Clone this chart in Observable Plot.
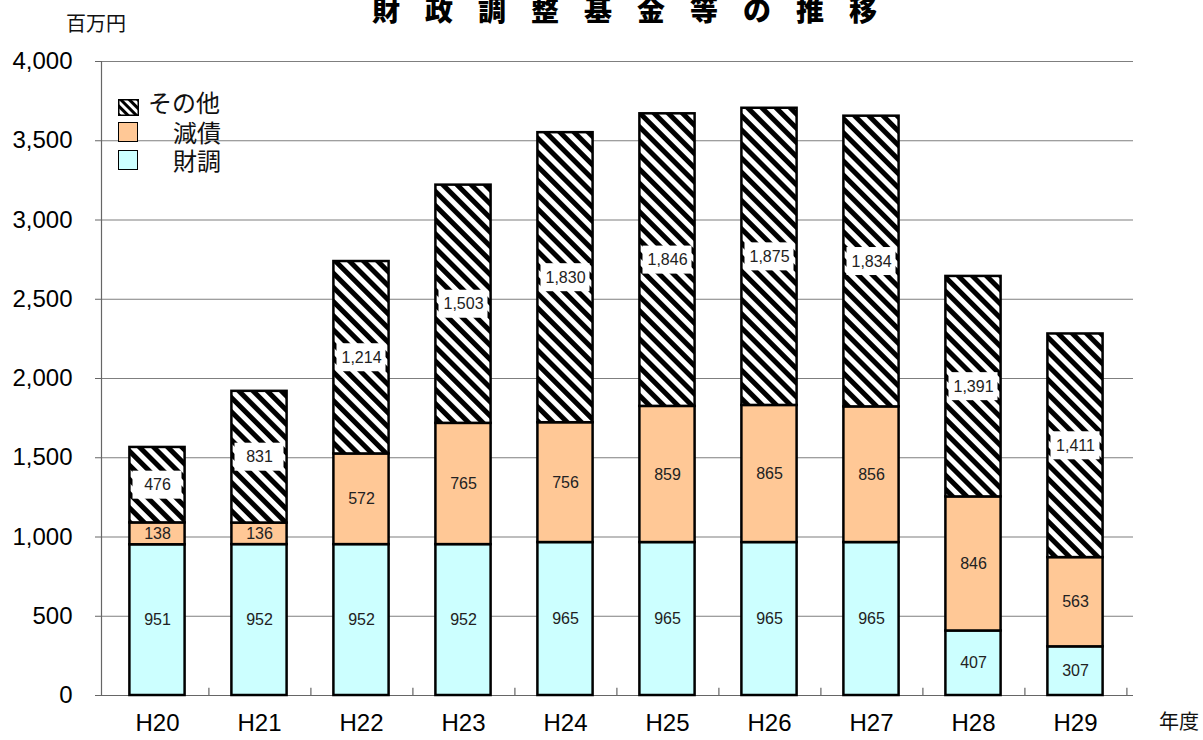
<!DOCTYPE html>
<html>
<head>
<meta charset="utf-8">
<script src="https://cdn.jsdelivr.net/npm/d3@7"></script>
<script src="https://cdn.jsdelivr.net/npm/@observablehq/plot@0.6"></script>
<style>
  body { margin: 0; background: #fff; }
  #wrap { position: relative; width: 1203px; height: 740px; overflow: hidden; font-family: 'Liberation Sans', 'Noto Sans CJK JP', sans-serif; color: #111; }
  #wrap svg.plot { position: absolute; left: 0; top: 0; }
  .title { position: absolute; left: 372px; top: -5px; white-space: nowrap; font-size: 28px; line-height: 28px; font-weight: 900; letter-spacing: 25px; font-family: 'Noto Sans CJK JP', sans-serif; color: #000; }
  .unit { position: absolute; left: 66px; top: 8px; font-size: 20px; font-family: 'Noto Sans CJK JP', sans-serif; }
  .xunit { position: absolute; left: 1159px; top: 706px; font-size: 20px; font-family: 'Noto Sans CJK JP', sans-serif; }
  .lg { position: absolute; font-family: 'Noto Sans CJK JP', sans-serif; font-size: 24px; line-height: 24px; white-space: nowrap; }
  .sw { position: absolute; width: 20px; height: 20px; border: 1.5px solid #000; box-sizing: border-box; }
</style>
</head>
<body>
<svg width="0" height="0" style="position:absolute">
  <defs>
    <pattern id="hatch" width="10" height="10" patternUnits="userSpaceOnUse" patternTransform="rotate(-45)">
      <rect width="10" height="10" fill="white"></rect>
      <rect width="5" height="10" fill="black"></rect>
    </pattern>
    <pattern id="hatchSmall" width="6" height="6" patternUnits="userSpaceOnUse" patternTransform="rotate(-45)">
      <rect width="6" height="6" fill="white"></rect>
      <rect width="3" height="6" fill="black"></rect>
    </pattern>
  </defs>
</svg>
<div id="wrap">
  <div class="title">財政調整基金等の推移</div>
  <div class="unit">百万円</div>
  <div class="xunit">年度</div>
  <svg style="position:absolute; left:118px; top:99px" width="21" height="17"><rect x="0.75" y="0.75" width="19.5" height="15.5" fill="url(#hatchSmall)" stroke="#000" stroke-width="1.5"></rect></svg>
  <div class="lg" style="left:148px; top:90px">その他</div>
  <div class="sw" style="left:118px; top:122px; background:#FFC896"></div>
  <div class="lg" style="left:173px; top:120px">減債</div>
  <div class="sw" style="left:118px; top:150px; background:#CCFFFF"></div>
  <div class="lg" style="left:173px; top:148px">財調</div>
</div>
<script>
const years = ["H20","H21","H22","H23","H24","H25","H26","H27","H28","H29"];
const zaichou = [951, 952, 952, 952, 965, 965, 965, 965, 407, 307];
const gensai  = [138, 136, 572, 765, 756, 859, 865, 856, 846, 563];
const sonota  = [476, 831, 1214, 1503, 1830, 1846, 1875, 1834, 1391, 1411];
const yTicks = [0, 500, 1000, 1500, 2000, 2500, 3000, 3500, 4000];

const zBars = years.map((y, i) => ({year: y, y1: 0, y2: zaichou[i], v: zaichou[i]}));
const gBars = years.map((y, i) => ({year: y, y1: zaichou[i], y2: zaichou[i] + gensai[i], v: gensai[i]}));
const sBars = years.map((y, i) => ({year: y, y1: zaichou[i] + gensai[i], y2: zaichou[i] + gensai[i] + sonota[i], v: sonota[i]}));
const mid = d => (d.y1 + d.y2) / 2;
const fmt = d3.format(",");
const labelStyle = {fontSize: 16, fill: "#222", fontFamily: "'Liberation Sans', sans-serif"};
const barInset = {insetLeft: 23.4, insetRight: 23.4};

const plot = Plot.plot({
  width: 1203,
  height: 740,
  marginLeft: 101,
  marginRight: 70,
  marginTop: 61,
  marginBottom: 45,
  style: {fontFamily: "'Liberation Sans', 'Noto Sans CJK JP', sans-serif", color: "#000", background: "transparent"},
  x: {domain: years, range: [102, 1130], padding: 0},
  y: {domain: [0, 4000]},
  marks: [
    Plot.gridY(yTicks, {stroke: "#7f7f7f", strokeOpacity: 1, strokeWidth: 1.2}),
    Plot.frame({anchor: "left", stroke: "#666", strokeWidth: 1.2}),
    Plot.ruleY([0], {stroke: "#666", strokeWidth: 1.2}),
    Plot.ruleX(years, {x: d => d, dx: 51.4, y1: 0, y2: 45, stroke: "#666", strokeWidth: 1.2}),
    Plot.barY(zBars, {x: "year", y1: "y1", y2: "y2", fill: "#CCFFFF", stroke: "#000", strokeWidth: 2.5, ...barInset}),
    Plot.barY(gBars, {x: "year", y1: "y1", y2: "y2", fill: "#FFC896", stroke: "#000", strokeWidth: 2.5, ...barInset}),
    Plot.barY(sBars, {x: "year", y1: "y1", y2: "y2", fill: "url(#hatch)", stroke: "#000", strokeWidth: 2.5, ...barInset}),
    Plot.barY(sBars, {x: "year", y1: mid, y2: mid, insetTop: -14, insetBottom: -14, insetLeft: 26.5, insetRight: 26.5, fill: "white"}),
    Plot.text(zBars, {x: "year", y: mid, text: d => fmt(d.v), ...labelStyle}),
    Plot.text(gBars, {x: "year", y: mid, text: d => fmt(d.v), ...labelStyle}),
    Plot.text(sBars, {x: "year", y: mid, text: d => fmt(d.v), ...labelStyle}),
    Plot.axisY(yTicks, {tickFormat: d3.format(","), fontSize: 24, tickSize: 6, tickPadding: 23, label: null, stroke: "#666", fill: "#000"}),
    Plot.axisX({tickSize: 0, tickPadding: 18, fontSize: 24, label: null, fill: "#000"})
  ]
});
plot.classList.add("plot");
document.getElementById("wrap").prepend(plot);
</script>
</body>
</html>
